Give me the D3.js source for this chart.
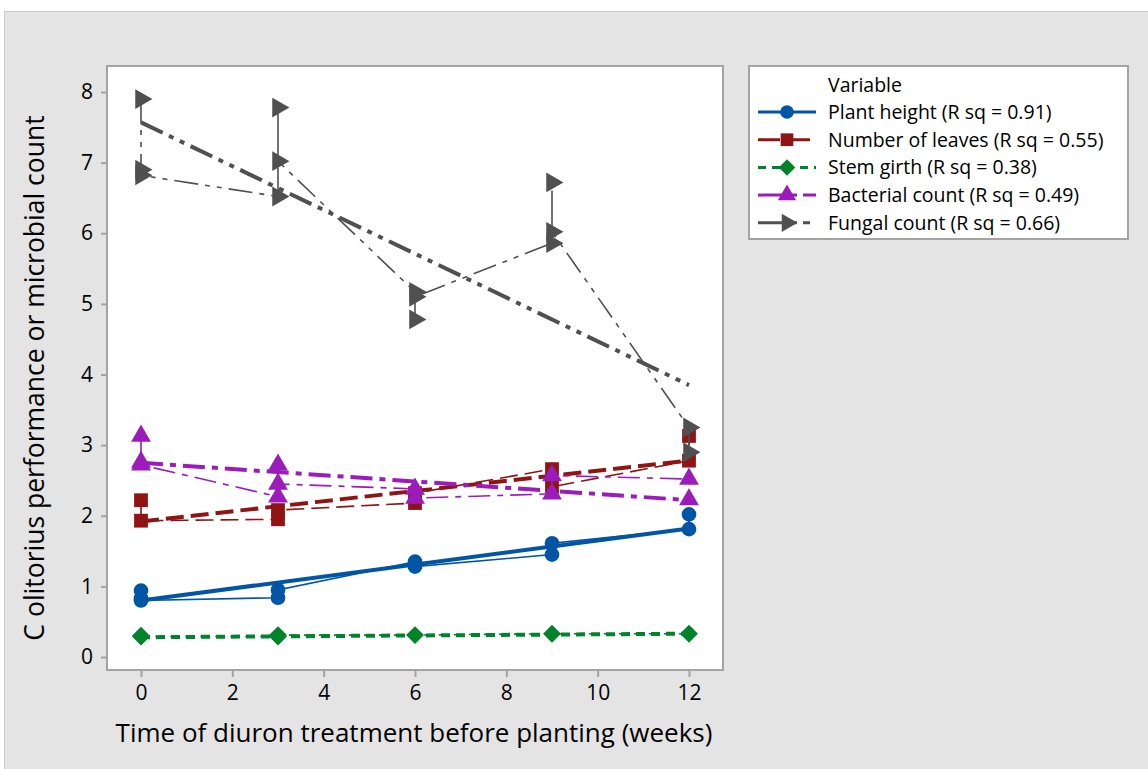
<!DOCTYPE html>
<html>
<head>
<meta charset="utf-8">
<script src="https://cdn.jsdelivr.net/npm/d3@7"></script>
<style>
  body { margin: 0; background: #fff; }
  text { font-family: "Open Sans", "Noto Sans", sans-serif; fill: #000; }
</style>
</head>
<body>
<svg id="chart" width="1148" height="769"></svg>
<script>
// values, points kept in the order the thin line joins them
var xTicks = [0, 2, 4, 6, 8, 10, 12];
var yTicks = [0, 1, 2, 3, 4, 5, 6, 7, 8];

var seriesNames = ["Plant height", "Number of leaves", "Stem girth", "Bacterial count", "Fungal count"];
var rSquared = [0.91, 0.55, 0.38, 0.49, 0.66];

var plantHeight = [[0, 0.94], [0, 0.83], [0, 0.80], [3, 0.84], [3, 0.95], [6, 1.35], [6, 1.28], [9, 1.45], [9, 1.61], [12, 1.81], [12, 2.02]];
var numberOfLeaves = [[0, 2.22], [0, 1.93], [3, 1.95], [3, 2.08], [6, 2.18], [6, 2.32], [9, 2.66], [9, 2.41], [12, 2.78], [12, 3.13]];
var stemGirth = [[0, 0.30], [0, 0.29], [3, 0.29], [3, 0.31], [6, 0.31], [9, 0.33], [12, 0.33]];
var bacterialCount = [[0, 3.13], [0, 2.76], [0, 2.72], [3, 2.27], [3, 2.72], [3, 2.45], [6, 2.38], [6, 2.25], [9, 2.31], [9, 2.57], [12, 2.52], [12, 2.23]];
var fungalCount = [[0, 7.9], [0, 6.9], [0, 6.82], [3, 6.52], [3, 7.78], [3, 7.02], [6, 5.17], [6, 4.78], [6, 5.1], [9, 5.86], [9, 6.72], [9, 6.02], [12, 3.25], [12, 2.9]];

// fitted line values at 0 and 12 weeks
var fitAt0 = [0.80, 1.92, 0.28, 2.75, 7.57];
var fitAt12 = [1.82, 2.78, 0.33, 2.22, 3.85];

var colors = ["#0055a5", "#901414", "#00832a", "#9b1bbb", "#505050"];
var dashes = ["none", "18,7", "9,6", "22,7,6,7", "24,7,5,7,5,7"];
var legendDashes = ["none", "22,8", "8,6", "26,6,7,6", "26,6,7,6,7,6"];

var allData = [plantHeight, numberOfLeaves, stemGirth, bacterialCount, fungalCount];

var svg = d3.select("#chart");

// grey frame
svg.append("rect")
    .attr("x", 4.5).attr("y", 11.5)
    .attr("width", 1150).attr("height", 770)
    .attr("fill", "#e4e4e4")
    .attr("stroke", "#c8c8c8");

var x = d3.scaleLinear().domain([0, 12]).range([141, 689]);
var y = d3.scaleLinear().domain([0, 8]).range([657, 92]);

// plot area
svg.append("rect")
    .attr("x", 107).attr("y", 66)
    .attr("width", 616).attr("height", 604)
    .attr("fill", "#fff")
    .attr("stroke", "#a3a3a3")
    .attr("stroke-width", 2);

var xAxis = svg.append("g")
    .attr("transform", "translate(0,670)")
    .call(d3.axisBottom(x).tickValues(xTicks).tickSize(7).tickPadding(5).tickSizeOuter(0));
var yAxis = svg.append("g")
    .attr("transform", "translate(107,0)")
    .call(d3.axisLeft(y).tickValues(yTicks).tickSize(6).tickPadding(8).tickSizeOuter(0));

[xAxis, yAxis].forEach(function(a) {
  a.select(".domain").remove();
  a.selectAll(".tick line").attr("stroke", "#a3a3a3").attr("stroke-width", 2);
  a.selectAll(".tick text").style("font-size", "21px").attr("fill", "#000");
});
xAxis.selectAll(".tick text").attr("dy", "0.85em");

svg.append("text")
    .attr("x", 414).attr("y", 742)
    .attr("text-anchor", "middle")
    .style("font-size", "26px")
    .text("Time of diuron treatment before planting (weeks)");

svg.append("text")
    .attr("transform", "translate(44,378) rotate(-90)")
    .attr("text-anchor", "middle")
    .style("font-size", "26.5px")
    .text("C olitorius performance or microbial count");

// marker shapes
function markerPath(i, s) {
  if (i === 0) return d3.symbol().type(d3.symbolCircle).size(s * 170)();
  if (i === 1) return d3.symbol().type(d3.symbolSquare).size(s * 190)();
  if (i === 2) return d3.symbol().type(d3.symbolSquare).size(s * 160)();
  return d3.symbol().type(d3.symbolTriangle).size(s * 170)();
}
function markerRot(i) {
  if (i === 2) return 45;
  if (i === 4) return 90;
  return 0;
}

var line = d3.line().x(function(d) { return x(d[0]); }).y(function(d) { return y(d[1]); });

allData.forEach(function(data, i) {
  var g = svg.append("g");
  g.append("path")
      .attr("d", line(data))
      .attr("fill", "none")
      .attr("stroke", colors[i])
      .attr("stroke-width", 1.6)
      .attr("stroke-dasharray", dashes[i]);
  g.append("path")
      .attr("d", line([[0, fitAt0[i]], [12, fitAt12[i]]]))
      .attr("fill", "none")
      .attr("stroke", colors[i])
      .attr("stroke-width", 4)
      .attr("stroke-dasharray", dashes[i]);
  g.selectAll(".pt")
      .data(data)
      .enter().append("path")
      .attr("d", markerPath(i, 1))
      .attr("transform", function(d) {
        return "translate(" + x(d[0]) + "," + y(d[1]) + ") rotate(" + markerRot(i) + ")";
      })
      .attr("fill", colors[i]);
});

// legend
var legend = svg.append("g");
legend.append("rect")
    .attr("x", 749).attr("y", 66)
    .attr("width", 379).attr("height", 173)
    .attr("fill", "#fff")
    .attr("stroke", "#a3a3a3")
    .attr("stroke-width", 2);
legend.append("text")
    .attr("x", 828).attr("y", 92)
    .style("font-size", "19.5px")
    .text("Variable");

seriesNames.forEach(function(name, i) {
  var cy = 112 + i * 27.7;
  legend.append("line")
      .attr("x1", 758).attr("x2", 816)
      .attr("y1", cy).attr("y2", cy)
      .attr("stroke", colors[i])
      .attr("stroke-width", 3)
      .attr("stroke-dasharray", legendDashes[i]);
  legend.append("path")
      .attr("d", markerPath(i, 0.85))
      .attr("transform", "translate(787," + cy + ") rotate(" + markerRot(i) + ")")
      .attr("fill", colors[i]);
  legend.append("text")
      .attr("x", 828).attr("y", cy + 7)
      .style("font-size", "19.5px")
      .text(name + " (R sq = " + rSquared[i].toFixed(2) + ")");
});
</script>
</body>
</html>
